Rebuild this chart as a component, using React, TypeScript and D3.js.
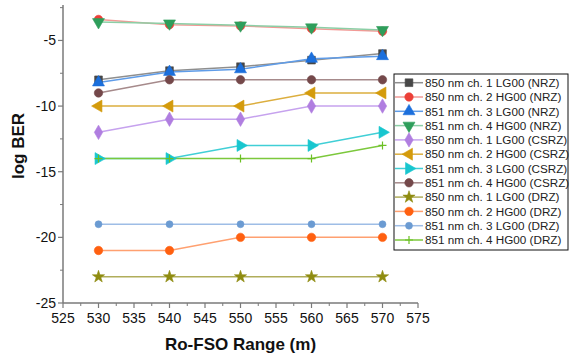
import React from "react";
import * as d3 from "d3";

// Ro-FSO range (m) sampled for every channel
const ranges = [530, 540, 550, 560, 570];

// log BER per channel / modulation format
const ch1NrzLG = [-8.0, -7.3, -7.0, -6.5, -6.0];
const ch2NrzHG = [-3.4, -3.8, -3.9, -4.1, -4.3];
const ch3NrzLG = [-8.2, -7.4, -7.2, -6.4, -6.2];
const ch4NrzHG = [-3.6, -3.7, -3.85, -4.0, -4.2];
const ch1CsrzLG = [-12, -11, -11, -10, -10];
const ch2CsrzHG = [-10, -10, -10, -9, -9];
const ch3CsrzLG = [-14, -14, -13, -13, -12];
const ch4CsrzHG = [-9, -8, -8, -8, -8];
const ch1DrzLG = [-23, -23, -23, -23, -23];
const ch2DrzHG = [-21, -21, -20, -20, -20];
const ch3DrzLG = [-19, -19, -19, -19, -19];
const ch4DrzHG = [-14, -14, -14, -14, -13];

const seriesNames = [
  "850 nm ch. 1 LG00 (NRZ)",
  "850 nm ch. 2 HG00 (NRZ)",
  "851 nm ch. 3 LG00 (NRZ)",
  "851 nm ch. 4 HG00 (NRZ)",
  "850 nm ch. 1 LG00 (CSRZ)",
  "850 nm ch. 2 HG00 (CSRZ)",
  "851 nm ch. 3 LG00 (CSRZ)",
  "851 nm ch. 4 HG00 (CSRZ)",
  "850 nm ch. 1 LG00 (DRZ)",
  "850 nm ch. 2 HG00 (DRZ)",
  "851 nm ch. 3 LG00 (DRZ)",
  "851 nm ch. 4 HG00 (DRZ)",
];

const seriesValues = [
  ch1NrzLG, ch2NrzHG, ch3NrzLG, ch4NrzHG,
  ch1CsrzLG, ch2CsrzHG, ch3CsrzLG, ch4CsrzHG,
  ch1DrzLG, ch2DrzHG, ch3DrzLG, ch4DrzHG,
];

const xTicks = [525, 530, 535, 540, 545, 550, 555, 560, 565, 570, 575];
const yTicks = [-25, -20, -15, -10, -5];

type Shape = "square" | "circle" | "up" | "down" | "diamond" | "left" | "right" | "star" | "smallCircle" | "plus";

const styles: { shape: Shape; fill: string; line: string }[] = [
  { shape: "square", fill: "#474747", line: "#8e8e8e" },
  { shape: "circle", fill: "#ec4038", line: "#f29a96" },
  { shape: "up", fill: "#1b6fdc", line: "#5f9ce8" },
  { shape: "down", fill: "#2e9e5b", line: "#8ccfa6" },
  { shape: "diamond", fill: "#b07ee0", line: "#c6a2ee" },
  { shape: "left", fill: "#d49b0c", line: "#dcae3e" },
  { shape: "right", fill: "#18c6cf", line: "#40cfd6" },
  { shape: "circle", fill: "#74484a", line: "#a68a8b" },
  { shape: "star", fill: "#8f8c10", line: "#b0ad5a" },
  { shape: "circle", fill: "#ff6010", line: "#ffa070" },
  { shape: "smallCircle", fill: "#6b9bd2", line: "#9ebde6" },
  { shape: "plus", fill: "#6cc024", line: "#7cc83c" },
];

const W = 569;
const H = 360;
const plot = { left: 63, right: 418, top: 5, bottom: 303 };

function Marker({ shape, fill, x, y }: { shape: Shape; fill: string; x: number; y: number }) {
  const t = `translate(${x},${y})`;
  if (shape === "plus") {
    return <path d="M-4,0H4M0,-4V4" transform={t} stroke={fill} strokeWidth={1.2} fill="none" />;
  }
  let path = "";
  let rot = 0;
  switch (shape) {
    case "square":
      path = d3.symbol(d3.symbolSquare, 60)()!;
      break;
    case "circle":
      path = d3.symbol(d3.symbolCircle, 56)()!;
      break;
    case "smallCircle":
      path = d3.symbol(d3.symbolCircle, 38)()!;
      break;
    case "up":
      path = d3.symbol(d3.symbolTriangle, 62)()!;
      break;
    case "down":
      path = d3.symbol(d3.symbolTriangle, 62)()!;
      rot = 180;
      break;
    case "left":
      path = d3.symbol(d3.symbolTriangle, 62)()!;
      rot = -90;
      break;
    case "right":
      path = d3.symbol(d3.symbolTriangle, 62)()!;
      rot = 90;
      break;
    case "diamond":
      path = d3.symbol(d3.symbolDiamond, 60)()!;
      break;
    case "star":
      path = d3.symbol(d3.symbolStar, 46)()!;
      break;
  }
  return <path d={path} transform={`${t} rotate(${rot})`} fill={fill} stroke={fill} strokeWidth={0.6} />;
}

export default function App() {
  const x = d3.scaleLinear().domain([525, 575]).range([plot.left, plot.right]);
  const y = d3.scaleLinear().domain([-25, -2.3]).range([plot.bottom, plot.top]);
  const x0 = x(525);
  const x1 = x(575);
  const y0 = y(-25);
  const y1 = y(-2.3);

  const xMinor = d3.range(525, 576, 2.5).filter((v) => !xTicks.includes(v));
  const yMinor = [-22.5, -17.5, -12.5, -7.5, -2.5];

  const line = d3
    .line<number>()
    .x((_, i) => x(ranges[i]))
    .y((v) => y(v));

  const axisColor = "#7a7a7a";
  const legendX = 394;
  const legendY = 74;
  const rowH = 14.3;

  return (
    <svg width={W} height={H} style={{ position: "absolute", left: 0, top: 0, background: "#fff" }}>
      <g fontFamily="Arial, 'Liberation Sans', sans-serif">
        {/* series lines */}
        {seriesValues.map((vals, i) => (
          <path key={`l${i}`} d={line(vals)!} fill="none" stroke={styles[i].line} strokeWidth={1.5} />
        ))}
        {/* series markers */}
        {seriesValues.map((vals, i) =>
          vals.map((v, j) => (
            <Marker key={`m${i}-${j}`} shape={styles[i].shape} fill={styles[i].fill} x={x(ranges[j])} y={y(v)} />
          ))
        )}

        {/* axes */}
        <line x1={x0} x2={x0} y1={y1} y2={y0} stroke={axisColor} strokeWidth={1.5} />
        <line x1={x0} x2={x1} y1={y0} y2={y0} stroke={axisColor} strokeWidth={1.5} />
        {yTicks.map((t) => (
          <g key={`yt${t}`}>
            <line x1={x0 - 5} x2={x0} y1={y(t)} y2={y(t)} stroke={axisColor} strokeWidth={1.2} />
            <text x={x0 - 7} y={y(t)} dy="0.36em" textAnchor="end" fontSize={14} fill="#111">
              {t}
            </text>
          </g>
        ))}
        {yMinor.map((t) => (
          <line key={`ym${t}`} x1={x0 - 3} x2={x0} y1={y(t)} y2={y(t)} stroke={axisColor} strokeWidth={1} />
        ))}
        {xTicks.map((t) => (
          <g key={`xt${t}`}>
            <line x1={x(t)} x2={x(t)} y1={y0} y2={y0 + 5} stroke={axisColor} strokeWidth={1.2} />
            <text x={x(t)} y={y0 + 20} textAnchor="middle" fontSize={14} fill="#111">
              {t}
            </text>
          </g>
        ))}
        {xMinor.map((t) => (
          <line key={`xm${t}`} x1={x(t)} x2={x(t)} y1={y0} y2={y0 + 3} stroke={axisColor} strokeWidth={1} />
        ))}

        {/* axis titles */}
        <text x={(x0 + x1) / 2} y={350} textAnchor="middle" fontSize={17} fontWeight="bold" fill="#111">
          Ro-FSO Range (m)
        </text>
        <text
          transform={`translate(24,${(y0 + y1) / 2 - 8}) rotate(-90)`}
          textAnchor="middle"
          fontSize={17}
          fontWeight="bold"
          fill="#111"
        >
          log BER
        </text>

        {/* legend */}
        <rect x={legendX} y={legendY} width={174} height={176} fill="#fff" stroke="#111" strokeWidth={1} />
        {seriesNames.map((name, i) => {
          const cy = legendY + 8.7 + i * rowH;
          return (
            <g key={`lg${i}`}>
              <line x1={legendX + 1} x2={legendX + 29} y1={cy} y2={cy} stroke={styles[i].line} strokeWidth={1.5} />
              <Marker shape={styles[i].shape} fill={styles[i].fill} x={legendX + 15} y={cy} />
              <text x={legendX + 31} y={cy} dy="0.36em" fontSize={11.7} fill="#222">
                {name}
              </text>
            </g>
          );
        })}
      </g>
    </svg>
  );
}
